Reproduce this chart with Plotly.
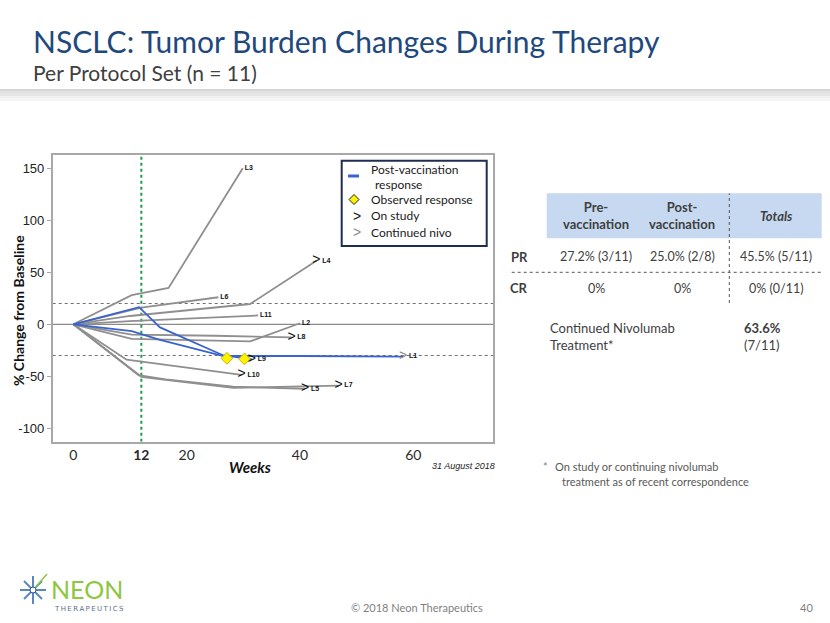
import plotly.graph_objects as go

W, H = 830, 623

# ---------------- data ----------------
patients = ["L1", "L2", "L3", "L4", "L5", "L6", "L7", "L8", "L9", "L10", "L11"]
weeks = {
    "L1": [0, 10.3, 15.3, 26.5, 40, 58.2],
    "L2": [0, 10.3, 31.2, 40],
    "L3": [0, 10.3, 16.8, 29.9],
    "L4": [0, 10, 31.2, 42.9],
    "L5": [0, 11.5, 16.3, 28.2, 40.9],
    "L6": [0, 12, 25.6],
    "L7": [0, 12, 16.3, 28.2, 46.8],
    "L8": [0, 10.3, 25, 38.5],
    "L9": [0, 11.6, 15.3, 26.5, 31.5],
    "L10": [0, 9.4, 29.7],
    "L11": [0, 10, 32.6],
}
pct_change = {
    "L1": [0, -6.5, -15, -30.5, -30.5, -31],
    "L2": [0, -14, -16.5, 1],
    "L3": [0, 28, 35, 150],
    "L4": [0, 8, 19.5, 61],
    "L5": [0, -49, -53, -60, -62],
    "L6": [0, 16, 26],
    "L7": [0, -50.5, -53.5, -61, -59],
    "L8": [0, -10, -11, -12.5],
    "L9": [0, 16.5, -3, -30, -33.5],
    "L10": [0, -34, -48.7],
    "L11": [0, 3, 8.5],
}
post_vaccination = ["L1", "L9"]
on_study = ["L4", "L5", "L7", "L8", "L9", "L10"]
continued_nivo = ["L1"]
response_weeks = [27.1, 30.2]
response_pct = [-32.7, -33.3]

x_ticks = [0, 12, 20, 40, 60]
x_tick_text = ["0", "<b>12</b>", "20", "40", "60"]
y_ticks = [-100, -50, 0, 50, 100, 150]
y_tick_text = ["-100", "-50", "0", "50", "100", "150"]
recist_lines = [20, -30]
week_marker = 12

table_cols = ["Pre-<br>vaccination", "Post-<br>vaccination", "<i>Totals</i>"]
table_rows = ["PR", "CR"]
table_vals = [["27.2% (3/11)", "25.0% (2/8)", "45.5% (5/11)"],
              ["0%", "0%", "0% (0/11)"]]

# ---------------- helpers ----------------
def px(x):
    return x / W

def py(y):
    return 1 - y / H

GRAY = "#8f8f8f"
BLUE = "#3b63cf"
TXT = "#404040"
FONT = "Lato"

fig = go.Figure()

x_rng = [-3.64, 74.06]
y_rng = [-112.9, 162.8]

fig.add_trace(go.Scatter(x=x_rng, y=[0, 0], mode="lines",
                         line=dict(color="#8a8a8a", width=1.2), hoverinfo="skip", showlegend=False))
for r in recist_lines:
    fig.add_trace(go.Scatter(x=x_rng, y=[r, r], mode="lines",
                             line=dict(color="#707070", width=1, dash="dot"), hoverinfo="skip", showlegend=False))
fig.add_trace(go.Scatter(x=[week_marker, week_marker], y=y_rng, mode="lines",
                         line=dict(color="#1e9a52", width=2, dash="dot"), hoverinfo="skip", showlegend=False))

order = [p for p in patients if p not in post_vaccination] + post_vaccination
for p in order:
    col = BLUE if p in post_vaccination else GRAY
    fig.add_trace(go.Scatter(x=weeks[p], y=pct_change[p], mode="lines",
                             line=dict(color=col, width=1.8), hoverinfo="skip", showlegend=False))

fig.add_trace(go.Scatter(x=response_weeks, y=response_pct, mode="markers",
                         marker=dict(symbol="diamond", size=9, color="#fff200",
                                     line=dict(color="#c8b400", width=1)),
                         hoverinfo="skip", showlegend=False))

for group, col in ((on_study, "#111111"), (continued_nivo, "#8a8a8a")):
    fig.add_trace(go.Scatter(x=[weeks[p][-1] for p in group],
                             y=[pct_change[p][-1] for p in group],
                             mode="text", text=[">"] * len(group), textposition="middle center",
                             textfont=dict(family="Liberation Sans", size=14, color=col),
                             hoverinfo="skip", showlegend=False))

lab_text = [("   " if (p in on_study or p in continued_nivo) else " ") + "<b>" + p + "</b>" for p in patients]
fig.add_trace(go.Scatter(x=[weeks[p][-1] for p in patients],
                         y=[pct_change[p][-1] for p in patients],
                         mode="text", text=lab_text, textposition="middle right",
                         textfont=dict(family="Liberation Sans", size=7, color="#111111"),
                         hoverinfo="skip", showlegend=False))

fig.update_layout(
    width=W, height=H,
    margin=dict(l=0, r=0, t=0, b=0),
    paper_bgcolor="white", plot_bgcolor="white",
    showlegend=False,
    xaxis=dict(domain=[px(52.7), px(493)], range=x_rng, showgrid=False, zeroline=False,
               showline=True, mirror=True, linecolor="#a8a8a8", linewidth=1.5,
               tickvals=x_ticks, ticktext=x_tick_text, ticks="",
               tickfont=dict(family=FONT, size=14, color="#2b2b2b")),
    yaxis=dict(domain=[py(441.7), py(155)], range=y_rng, showgrid=False, zeroline=False,
               showline=True, mirror=True, linecolor="#a8a8a8", linewidth=1.5,
               tickvals=y_ticks, ticktext=y_tick_text, ticks="outside", ticklen=4, tickcolor="#a8a8a8",
               tickfont=dict(family="Liberation Sans", size=13, color="#222222")),
)

shapes = []
ann = []

def text(x, y, s, size, color=TXT, family=FONT, xanchor="center", yanchor="middle", angle=0, align="center"):
    ann.append(dict(x=px(x), y=py(y), xref="paper", yref="paper", text=s, showarrow=False,
                    xanchor=xanchor, yanchor=yanchor, textangle=angle, align=align,
                    font=dict(family=family, size=size, color=color)))

for i, c in enumerate(["#d6d6d6", "#dedede", "#e6e6e6", "#eeeeee", "#f5f5f5"]):
    shapes.append(dict(type="rect", xref="paper", yref="paper", x0=0, x1=1,
                       y0=py(89 + 2.4 * (i + 1)), y1=py(89 + 2.4 * i), line=dict(width=0), fillcolor=c, layer="below"))

text(31, 41, "NSCLC: Tumor Burden Changes During Therapy", 30, color="#1f497d", xanchor="left")
text(31, 72, "Per Protocol Set (n = 11)", 21, color=TXT, xanchor="left")

text(19, 311, "<b>% Change from Baseline</b>", 14, color="#111111", angle=-90)
text(250, 467, "<b><i>Weeks</i></b>", 15, color="#111111")
text(463, 466, "<i>31 August 2018</i>", 9, color="#222222", family="Liberation Sans")

shapes.append(dict(type="rect", xref="paper", yref="paper", x0=px(341.7), x1=px(486.7),
                   y0=py(246), y1=py(160.7), line=dict(color="#1f2d4f", width=2), fillcolor="white"))
shapes.append(dict(type="line", xref="paper", yref="paper", x0=px(348), x1=px(359),
                   y0=py(176), y1=py(176), line=dict(color=BLUE, width=3)))
dx, dy, r = 354, 199.5, 5
shapes.append(dict(type="path", xref="paper", yref="paper",
                   path=f"M {px(dx)} {py(dy - r)} L {px(dx + r)} {py(dy)} L {px(dx)} {py(dy + r)} L {px(dx - r)} {py(dy)} Z",
                   fillcolor="#fff200", line=dict(color="#222222", width=1)))
text(369, 169.5, "Post-vaccination", 12, color="#1a1a1a", xanchor="left")
text(373, 184.5, "response", 12, color="#1a1a1a", xanchor="left")
text(369, 199.5, "Observed response", 12, color="#1a1a1a", xanchor="left")
text(356.5, 216, ">", 14, color="#111111", family="Liberation Sans")
text(369, 216, "On study", 12, color="#1a1a1a", xanchor="left")
text(356.5, 232, ">", 14, color="#8a8a8a", family="Liberation Sans")
text(369, 232, "Continued nivo", 12, color="#1a1a1a", xanchor="left")

shapes.append(dict(type="rect", xref="paper", yref="paper", x0=px(546.7), x1=px(821.7),
                   y0=py(238.3), y1=py(193.3), line=dict(width=0), fillcolor="#c6d9f1", layer="below"))
shapes.append(dict(type="line", xref="paper", yref="paper", x0=px(729.3), x1=px(729.3),
                   y0=py(303), y1=py(193.3), line=dict(color="#555555", width=1, dash="dot")))
shapes.append(dict(type="line", xref="paper", yref="paper", x0=px(511.7), x1=px(821.7),
                   y0=py(272.3), y1=py(272.3), line=dict(color="#555555", width=1, dash="dot")))
col_x = [596, 682, 776]
for cx, c in zip(col_x, table_cols):
    text(cx, 216, f"<b>{c}</b>", 13, color=TXT)
for rname, rvals, ry in zip(table_rows, table_vals, [256.7, 288.3]):
    text(519, ry, f"<b>{rname}</b>", 13, color=TXT)
    for cx, v in zip(col_x, rvals):
        text(cx, ry, v, 12.5, color=TXT)

text(548, 336, "Continued Nivolumab<br>Treatment*", 13, color=TXT, xanchor="left", align="left")
text(741.7, 336, "<b>63.6%</b><br>(7/11)", 13, color=TXT, xanchor="left", align="left")

text(541, 466, "*", 11, color="#7f7f7f", xanchor="left")
text(553, 466, "On study or continuing nivolumab", 11, color="#595959", xanchor="left")
text(560, 481, "treatment as of recent correspondence", 11, color="#595959", xanchor="left")

text(417, 607, "© 2018 Neon Therapeutics", 11, color="#7f7f7f")
text(806, 607, "40", 11, color="#7f7f7f")

cx0, cy0 = 33, 590
spikes = [(0, -14), (0, 14), (-13, 0), (13, 0), (-9, -9), (9, 9), (-9, 9), (9, -9)]
for sx, sy in spikes:
    shapes.append(dict(type="line", xref="paper", yref="paper", x0=px(cx0), y0=py(cy0),
                       x1=px(cx0 + sx), y1=py(cy0 + sy), line=dict(color="#5a86c4", width=2)))
shapes.append(dict(type="line", xref="paper", yref="paper", x0=px(cx0), y0=py(cy0),
                   x1=px(cx0 + 14), y1=py(cy0 - 16), line=dict(color="#8dc63f", width=1.5)))
shapes.append(dict(type="circle", xref="paper", yref="paper", x0=px(cx0 - 3), x1=px(cx0 + 3),
                   y0=py(cy0 + 3), y1=py(cy0 - 3), line=dict(color="#2d4f8a", width=1), fillcolor="white"))
text(49, 589, "NEON", 25, color="#8dc63f", xanchor="left")
text(52, 609, "\u2009".join("THERAPEUTICS"), 7, color="#5a6f8a", family="DejaVu Sans", xanchor="left")

fig.update_layout(shapes=shapes, annotations=ann)
fig.write_html("out.html", config={"displayModeBar": False},
               post_script="document.body.style.margin='0';")
